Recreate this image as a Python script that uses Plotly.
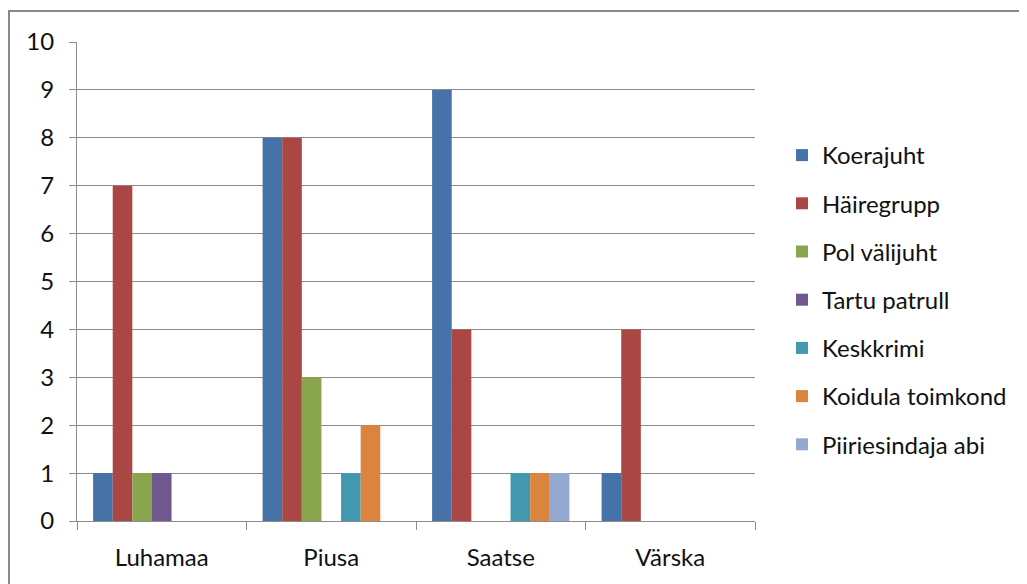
import plotly.graph_objects as go

categories = ["Luhamaa", "Piusa", "Saatse", "Värska"]
series_names = ["Koerajuht", "Häiregrupp", "Pol välijuht", "Tartu patrull",
                "Keskkrimi", "Koidula toimkond", "Piiriesindaja abi"]
koerajuht = [1, 8, 9, 1]
hairegrupp = [7, 8, 4, 4]
pol_valijuht = [1, 3, 0, 0]
tartu_patrull = [1, 0, 0, 0]
keskkrimi = [0, 1, 1, 0]
koidula_toimkond = [0, 2, 1, 0]
piiriesindaja_abi = [0, 0, 1, 0]
series_values = [koerajuht, hairegrupp, pol_valijuht, tartu_patrull,
                 keskkrimi, koidula_toimkond, piiriesindaja_abi]
colors = ["#4572A7", "#AA4643", "#89A54E", "#71588F", "#4198AF", "#DB843D", "#93A9CF"]
y_ticks = list(range(0, 11))

# page body has an 8px margin; work in page coordinates and shift
OFF = 8
W, H = 1027 - OFF, 584 - OFF
L, R, T, B = 77 - OFF, 755 - OFF, 42 - OFF, 521 - OFF

fig = go.Figure()
for i, (name, vals) in enumerate(zip(series_names, series_values)):
    fig.add_trace(go.Bar(
        x=categories, y=vals, name=name, legendgroup=name,
        marker=dict(color=colors[i], line=dict(width=0)),
    ))

FONT = "Lato"
FS = 24
TXT = "#111111"
pw, ph = R - L, B - T

def px_x(v):
    return (v - OFF - L) / pw

def px_y(v):
    return (B - (v - OFF)) / ph

fig.update_layout(
    width=W, height=H,
    margin=dict(l=L, r=W - R, t=T, b=H - B, pad=0),
    paper_bgcolor="white", plot_bgcolor="white",
    barmode="group", bargap=0.19, bargroupgap=0,
    font=dict(family=FONT, size=FS, color=TXT),
    legend=dict(
        x=px_x(782), xanchor="left", y=px_y(133), yanchor="top",
        font=dict(family=FONT, size=FS, color=TXT),
        tracegroupgap=14, bgcolor="rgba(0,0,0,0)",
    ),
    showlegend=True,
    xaxis=dict(
        showline=True, linecolor="#8c8c8c", linewidth=1,
        ticks="outside", ticklen=8, tickcolor="#8c8c8c", tickson="boundaries",
        showgrid=False, ticklabelstandoff=15,
        tickfont=dict(family=FONT, size=FS, color=TXT),
    ),
    yaxis=dict(
        range=[0, 10], tickvals=y_ticks,
        showline=True, linecolor="#8c8c8c", linewidth=1,
        ticks="outside", ticklen=7, tickcolor="#8c8c8c",
        showgrid=True, gridcolor="#8c8c8c", gridwidth=1,
        zeroline=False, ticklabelstandoff=10,
        tickfont=dict(family=FONT, size=FS, color=TXT),
    ),
    shapes=[dict(
        type="rect", xref="paper", yref="paper",
        x0=px_x(9), x1=px_x(1060), y0=px_y(620), y1=px_y(11),
        line=dict(color="#8a8a8a", width=2), fillcolor="rgba(0,0,0,0)",
        layer="below",
    )],
)

fig.write_html("out.html")
